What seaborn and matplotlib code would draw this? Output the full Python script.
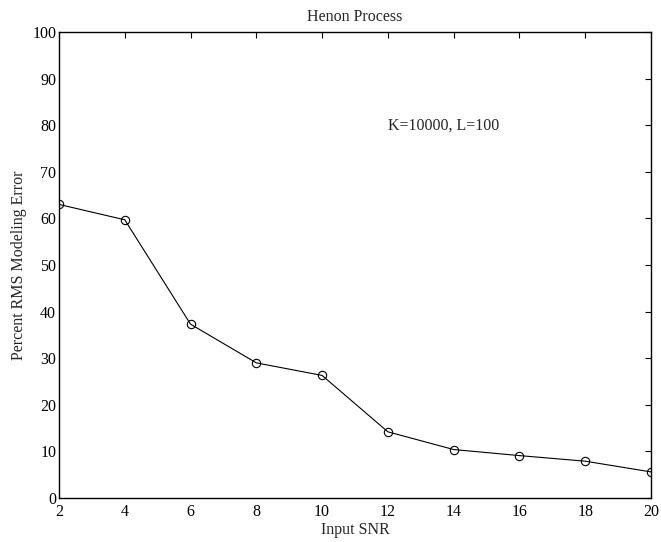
import matplotlib
matplotlib.use("Agg")
import matplotlib.pyplot as plt
import seaborn as sns
import pandas as pd

snr = [2, 4, 6, 8, 10, 12, 14, 16, 18, 20]
rms_error = [63.0, 59.7, 37.3, 29.0, 26.3, 14.2, 10.4, 9.1, 7.9, 5.6]
x_ticks = [2, 4, 6, 8, 10, 12, 14, 16, 18, 20]
y_ticks = [0, 10, 20, 30, 40, 50, 60, 70, 80, 90, 100]

sns.set_theme(style="white")
plt.rcParams['font.family'] = ['Liberation Serif', 'DejaVu Serif']
plt.rcParams['font.size'] = 11.5

df = pd.DataFrame({"snr": snr, "err": rms_error})

fig = plt.figure(figsize=(6.61, 5.42), dpi=100)
ax = fig.add_axes([59/661, 1-498/542, (651-59)/661, (498-32)/542])

sns.lineplot(data=df, x="snr", y="err", ax=ax, color="black", linewidth=0.8,
             marker="o", markersize=6, markerfacecolor="none",
             markeredgecolor="black", markeredgewidth=0.8)

ax.set_xlim(2, 20)
ax.set_ylim(0, 100)
ax.set_xticks(x_ticks)
ax.set_yticks(y_ticks)
ax.tick_params(direction="in", length=4, width=0.8, top=True, right=True,
               labelsize=11.5, colors="black")
ax.tick_params(axis="x", pad=4)
ax.tick_params(axis="y", pad=2)
for s in ax.spines.values():
    s.set_visible(True)
    s.set_color("black")
    s.set_linewidth(1.0)

ax.set_title("Henon Process", fontsize=11.5, pad=8)
ax.set_xlabel("Input SNR", fontsize=11.5, labelpad=2)
ax.set_ylabel("Percent RMS Modeling Error", fontsize=11.5, labelpad=4)
ax.text(12, 80, "K=10000, L=100", fontsize=11.5, ha="left", va="center")

fig.savefig("out.png", dpi=100)
